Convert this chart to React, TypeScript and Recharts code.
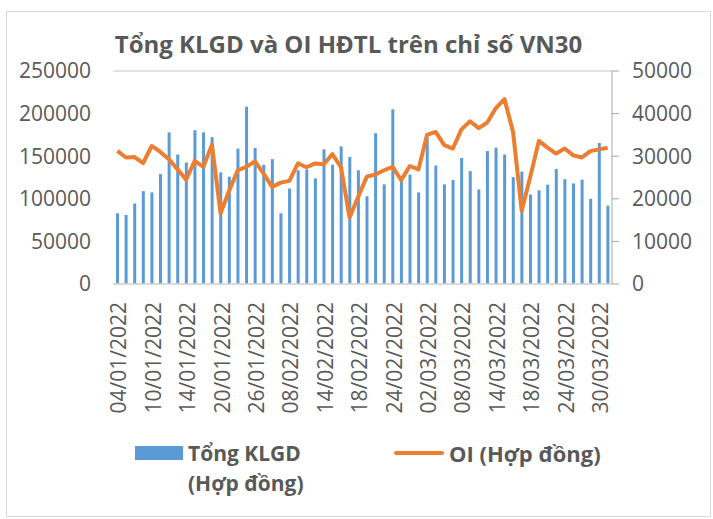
import React from 'react';
import {
  ComposedChart,
  Bar,
  Line,
  XAxis,
  YAxis,
  CartesianGrid,
  Legend,
} from 'recharts';

const FONT = '"Open Sans", "Noto Sans", sans-serif';
const TEXT = '#595959';

const DATES = [
  '04/01/2022', '05/01/2022', '06/01/2022', '07/01/2022', '10/01/2022', '11/01/2022', '12/01/2022',
  '13/01/2022', '14/01/2022', '17/01/2022', '18/01/2022', '19/01/2022', '20/01/2022', '21/01/2022',
  '24/01/2022', '25/01/2022', '26/01/2022', '27/01/2022', '28/01/2022',
  '07/02/2022', '08/02/2022', '09/02/2022', '10/02/2022', '11/02/2022', '14/02/2022', '15/02/2022',
  '16/02/2022', '17/02/2022', '18/02/2022', '21/02/2022', '22/02/2022', '23/02/2022', '24/02/2022',
  '25/02/2022', '28/02/2022',
  '01/03/2022', '02/03/2022', '03/03/2022', '04/03/2022', '07/03/2022', '08/03/2022', '09/03/2022',
  '10/03/2022', '11/03/2022', '14/03/2022', '15/03/2022', '16/03/2022', '17/03/2022', '18/03/2022',
  '21/03/2022', '22/03/2022', '23/03/2022', '24/03/2022', '25/03/2022', '28/03/2022', '29/03/2022',
  '30/03/2022', '31/03/2022',
];

// Tổng KLGD (hợp đồng)
const KLGD = [
  83000, 81000, 94500, 109000, 107500, 129000, 178000, 152000, 142500, 180500,
  178000, 172500, 131000, 126000, 159000, 208000, 159500, 140000, 146500, 83000,
  112000, 133500, 134500, 124000, 158000, 140000, 161500, 149000, 133500, 103000,
  177000, 117000, 205000, 121000, 128500, 107500, 172000, 139000, 117000, 122000,
  148000, 132500, 111000, 156000, 160000, 152000, 125500, 132000, 105000, 110000,
  116500, 135000, 123000, 118000, 122500, 100000, 165500, 92000,
];

// OI (hợp đồng)
const OI = [
  31250, 29700, 29800, 28400, 32400, 31000, 29300, 26900, 24500, 28900,
  27500, 32700, 16600, 21900, 26700, 27500, 28800, 25900, 22800, 23800,
  24200, 28300, 27400, 28300, 28100, 30500, 27400, 15600, 20500, 25200,
  25700, 26700, 27500, 24400, 27700, 26900, 35000, 35700, 32600, 31800,
  36300, 38200, 36600, 37900, 41300, 43400, 35700, 17200, 25200, 33600,
  32000, 30600, 31800, 30200, 29700, 31200, 31600, 32000,
];

const LEFT_TICKS = [0, 50000, 100000, 150000, 200000, 250000];
const RIGHT_TICKS = [0, 10000, 20000, 30000, 40000, 50000];

const data = DATES.map((d, i) => ({ date: d, klgd: KLGD[i], oi: OI[i] }));

const DateTick = (props: any) => {
  const { x, y, payload } = props;
  return (
    <text
      x={x + 1}
      y={y}
      transform={`rotate(-90, ${x + 1}, ${y})`}
      textAnchor="end"
      dominantBaseline="central"
      fill={TEXT}
      fontSize={21}
      fontFamily={FONT}
    >
      {payload.value}
    </text>
  );
};

const LegendBox = () => (
  <div style={{ position: 'relative', width: 713, height: 60, fontFamily: FONT, fontWeight: 700, fontSize: 21, color: TEXT }}>
    <div style={{ position: 'absolute', left: 135, top: 8, width: 48, height: 14, background: '#5b9bd5' }} />
    <div style={{ position: 'absolute', left: 188, top: 0, lineHeight: '30px' }}>
      Tổng KLGD
      <br />
      (Hợp đồng)
    </div>
    <div style={{ position: 'absolute', left: 394, top: 13, width: 50, height: 4, borderRadius: 2, background: '#ed7d31' }} />
    <div style={{ position: 'absolute', left: 449, top: 0, lineHeight: '30px', fontSize: 22 }}>OI (Hợp đồng)</div>
  </div>
);

export default function App() {
  return (
    <div style={{ position: 'absolute', left: 0, top: 0, width: 713, height: 519, background: '#fff', overflow: 'hidden' }}>
      <div
        style={{
          position: 'absolute',
          left: 6,
          top: 11,
          width: 705,
          height: 506,
          border: '1px solid #d9d9d9',
          boxSizing: 'border-box',
        }}
      />
      <div
        style={{
          position: 'absolute',
          left: 0,
          width: 697,
          top: 28,
          textAlign: 'center',
          fontFamily: FONT,
          fontWeight: 700,
          fontSize: 24,
          color: TEXT,
          lineHeight: '32px',
        }}
      >
        Tổng KLGD và OI HĐTL trên chỉ số VN30
      </div>
      <ComposedChart
        width={713}
        height={519}
        data={data}
        margin={{ top: 71, right: 6, bottom: 95, left: 8 }}
        style={{ position: 'absolute', left: 0, top: 0 }}
      >
        <CartesianGrid vertical={false} stroke="#d9d9d9" strokeWidth={1.5} />
        <XAxis
          dataKey="date"
          interval={3}
          height={140}
          tickLine={false}
          axisLine={{ stroke: '#d9d9d9', strokeWidth: 1.5 }}
          tick={<DateTick />}
          tickMargin={12}
        />
        <YAxis
          yAxisId="left"
          width={105}
          domain={[0, 250000]}
          ticks={LEFT_TICKS}
          axisLine={false}
          tickLine={false}
          tickSize={0}
          tickMargin={22}
          tick={{ fill: TEXT, fontSize: 21, fontFamily: FONT }}
        />
        <YAxis
          yAxisId="right"
          orientation="right"
          width={95}
          domain={[0, 50000]}
          ticks={RIGHT_TICKS}
          axisLine={{ stroke: '#a6a6a6' }}
          tickLine={{ stroke: '#a6a6a6' }}
          tickSize={7}
          tickMargin={13}
          tick={{ fill: TEXT, fontSize: 21, fontFamily: FONT, textAnchor: 'start' }}
        />
        <Bar yAxisId="left" dataKey="klgd" name="Tổng KLGD (Hợp đồng)" fill="#5b9bd5" barSize={3} isAnimationActive={false} />
        <Line
          yAxisId="right"
          dataKey="oi"
          name="OI (Hợp đồng)"
          stroke="#ed7d31"
          strokeWidth={4}
          dot={false}
          strokeLinejoin="round"
          isAnimationActive={false}
        />
        <Legend
          verticalAlign="middle"
          align="center"
          layout="horizontal"
          wrapperStyle={{ top: 438, left: 0, width: 713, height: 60 }}
          content={() => <LegendBox />}
        />
      </ComposedChart>
    </div>
  );
}
